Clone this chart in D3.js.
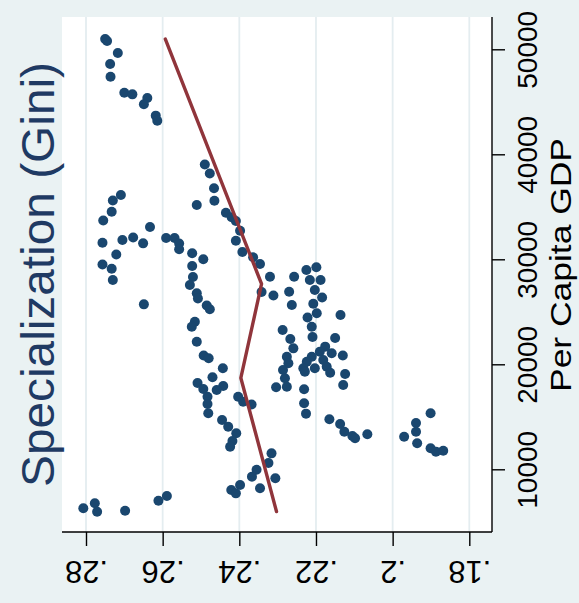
<!DOCTYPE html>
<html>
<head>
<meta charset="utf-8">
<script src="https://cdn.jsdelivr.net/npm/d3@7"></script>
<style>
  html, body { margin: 0; padding: 0; background: #eaf2f3; }
  svg { display: block; font-family: "Liberation Sans", Arial, sans-serif; }
</style>
</head>
<body>
<script>
// Specialization (Gini) against per capita GDP, one point per observation
const gini = [
  0.2750, 0.2745, 0.2717, 0.2737, 0.2736, 0.2700, 0.2679, 0.2640, 0.2649, 0.2618, 0.2614,
  0.2490, 0.2477, 0.2466, 0.2465, 0.2511, 0.2435, 0.2420, 0.2409, 0.2398, 0.2409, 0.2392,
  0.2364, 0.2346, 0.2320, 0.2342, 0.2311,
  0.2709, 0.2730, 0.2733, 0.2755, 0.2633, 0.2757, 0.2705, 0.2677, 0.2651, 0.2721, 0.2757,
  0.2733, 0.2730, 0.2649,
  0.2591, 0.2569, 0.2557, 0.2557, 0.2523, 0.2494, 0.2523, 0.2521, 0.2529, 0.2511, 0.2508,
  0.2485, 0.2477, 0.2516, 0.2524, 0.2511, 0.2493, 0.2480, 0.2443, 0.2470, 0.2509, 0.2494,
  0.2442, 0.2459, 0.2483, 0.2483, 0.2481, 0.2445, 0.2429, 0.2408, 0.2418, 0.2424, 0.2403,
  0.2390, 0.2368,
  0.2316, 0.2324, 0.2355, 0.2367, 0.2306, 0.2346, 0.2398, 0.2421, 0.2409,
  0.2807, 0.2777, 0.2771, 0.2698, 0.2611, 0.2589,
  0.2270, 0.2257, 0.2225, 0.2199, 0.2216, 0.2188, 0.2203, 0.2184, 0.2263, 0.2207, 0.2198,
  0.2222, 0.2211, 0.2209, 0.2136, 0.2287, 0.2267, 0.2259, 0.2276, 0.2272, 0.2286, 0.2281,
  0.2276, 0.2304, 0.2150, 0.2176, 0.2190, 0.2159, 0.2130, 0.2211, 0.2224, 0.2181, 0.2233,
  0.2203, 0.2172, 0.2163, 0.2229, 0.2124, 0.2129, 0.2231, 0.2231, 0.2226, 0.2165, 0.2137,
  0.2126, 0.2105, 0.2098, 0.2066,
  0.1901, 0.1939, 0.1939, 0.1970, 0.1936, 0.1901, 0.1887, 0.1868
];
const gdp = [
  50980, 50790, 49650, 48600, 47390, 45870, 45710, 45360, 44760, 43680, 43200,
  39030, 38170, 36760, 35580, 35170, 34440, 34000, 33650, 32720, 31770, 30700,
  30190, 29550, 28340, 26890, 26550,
  36120, 35600, 34530, 33700, 33080, 31580, 31840, 32080, 31520, 30460, 29500,
  29100, 28030, 25710,
  32030, 32030, 31500, 30950, 30570, 30000, 29360, 28310, 27550, 26760, 26270,
  25600, 25240, 24060, 23580, 22150, 20840, 20570, 19620, 18760, 18220, 17650,
  17930, 17550, 16910, 16220, 15330, 14700, 14060, 13430, 12700, 12150, 16910,
  16440, 16170,
  11520, 10600, 9960, 9300, 9140, 8190, 8500, 8030, 7710,
  6290, 6760, 5960, 6060, 7010, 7460,
  26910, 28340, 28980, 29240, 28030, 28030, 27080, 26360, 25650, 25760, 24860,
  24460, 23580, 22600, 24700, 23270, 22410, 21520, 20720, 20100, 19460, 18670,
  17870, 17810, 22500, 21680, 21200, 21050, 20840, 20720, 20250, 20410, 19620,
  19620, 19770, 19200, 19300, 19080, 18030, 17620, 16290, 15300, 14760, 14310,
  13580, 13170, 12950, 13330,
  15330, 14410, 13580, 13100, 12480, 12000, 11680, 11770
];

// Fitted band line (Gini at each GDP level)
const fitGini = [0.2593, 0.2342, 0.2396, 0.2303];
const fitGdp = [50980, 27650, 18700, 5980];

// Axis ticks and their labels
const giniTicks = [0.28, 0.26, 0.24, 0.22, 0.20, 0.18];
const giniLabels = [".28", ".26", ".24", ".22", ".2", ".18"];
const gdpTicks = [10000, 20000, 30000, 40000, 50000];
const gdpLabels = ["10000", "20000", "30000", "40000", "50000"];

const W = 579, H = 603;
const plot = { left: 62, right: 492, top: 17, bottom: 532 };

const svg = d3.select("body").append("svg")
  .attr("width", W).attr("height", H);

svg.append("rect").attr("width", W).attr("height", H).attr("fill", "#eaf2f3");
svg.append("rect")
  .attr("x", plot.left).attr("y", plot.top)
  .attr("width", plot.right - plot.left).attr("height", plot.bottom - plot.top)
  .attr("fill", "#ffffff");

// Gini runs horizontally (high on the left), GDP vertically
const x = d3.scaleLinear().domain([0.28, 0.18]).range([86, 469.3]);
const y = d3.scaleLinear().domain([10000, 50000]).range([469.3, 49.3]);

// Grid lines at the Gini ticks
svg.append("g").selectAll("line").data(giniTicks).join("line")
  .attr("x1", d => x(d)).attr("x2", d => x(d))
  .attr("y1", plot.top).attr("y2", plot.bottom)
  .attr("stroke", "#e4edf0").attr("stroke-width", 1.8);

// Points
svg.append("g").selectAll("circle").data(d3.range(gini.length)).join("circle")
  .attr("cx", i => x(gini[i])).attr("cy", i => y(gdp[i]))
  .attr("r", 5).attr("fill", "#1a476f");

// Band line
const line = d3.line().x(i => x(fitGini[i])).y(i => y(fitGdp[i]));
svg.append("path").datum(d3.range(fitGini.length))
  .attr("d", line).attr("fill", "none")
  .attr("stroke", "#90353b").attr("stroke-width", 3.4)
  .attr("stroke-linejoin", "round").attr("stroke-linecap", "round");

// Bottom axis: Gini
const xAxis = d3.axisBottom(x).tickValues(giniTicks).tickSize(14).tickPadding(0)
  .tickFormat((d, i) => giniLabels[i]);
const gx = svg.append("g").attr("transform", `translate(0,${plot.bottom})`).call(xAxis);
gx.select(".domain").attr("d", `M${plot.left},0H${plot.right}`)
  .attr("stroke", "#000").attr("stroke-width", 1.4);
gx.selectAll(".tick line").attr("stroke", "#000").attr("stroke-width", 1.4);
gx.selectAll(".tick text")
  .attr("font-size", 31).attr("fill", "#000")
  .attr("text-anchor", "middle")
  .attr("dy", null).attr("y", 11)
  .attr("transform", "translate(0,40) rotate(180)");

// Right axis: GDP
const yAxis = d3.axisRight(y).tickValues(gdpTicks).tickSize(13).tickPadding(0)
  .tickFormat((d, i) => gdpLabels[i]);
const gy = svg.append("g").attr("transform", `translate(${plot.right},0)`).call(yAxis);
gy.select(".domain").attr("d", `M0,${plot.top}V${plot.bottom}`)
  .attr("stroke", "#000").attr("stroke-width", 1.4);
gy.selectAll(".tick line").attr("stroke", "#000").attr("stroke-width", 1.4);
gy.selectAll(".tick text")
  .attr("font-size", 28).attr("fill", "#000")
  .attr("text-anchor", "middle")
  .attr("x", 0).attr("dy", null).attr("y", 0)
  .attr("transform", "translate(45,0) rotate(-90)");

// Axis titles
svg.append("text")
  .attr("transform", "translate(571,265) rotate(-90)")
  .attr("text-anchor", "middle")
  .attr("font-size", 30).attr("fill", "#000")
  .attr("textLength", 254).attr("lengthAdjust", "spacingAndGlyphs")
  .text("Per Capita GDP");

svg.append("text")
  .attr("transform", "translate(54,274.5) rotate(-90)")
  .attr("text-anchor", "middle")
  .attr("font-size", 47).attr("fill", "#1f3a63")
  .attr("textLength", 425).attr("lengthAdjust", "spacingAndGlyphs")
  .text("Specialization (Gini)");
</script>
</body>
</html>
